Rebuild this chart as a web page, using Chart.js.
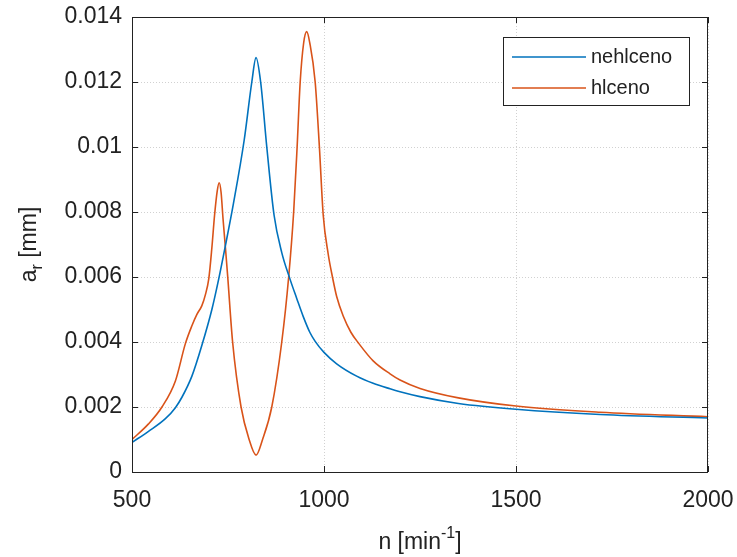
<!DOCTYPE html>
<html>
<head>
<meta charset="utf-8">
<script src="https://cdn.jsdelivr.net/npm/chart.js@4"></script>
<style>
  body { margin: 0; background: #fff; }
  #wrap { width: 737px; height: 557px; position: relative; }
</style>
</head>
<body>
<div id="wrap"><canvas id="respChart"></canvas></div>
<script>
// values
const xTicks = [500, 1000, 1500, 2000];
const yTicks = [0, 0.002, 0.004, 0.006, 0.008, 0.01, 0.012, 0.014];
const seriesNames = ['nehlceno', 'hlceno'];

// nehlceno (blue)
const blueN = [500, 543, 587, 613, 630, 656, 682, 708, 726, 743, 764, 792, 812, 823, 835, 851, 870, 890, 911, 929, 946, 963, 977, 1000, 1033, 1085, 1128, 1172, 1198, 1250, 1350, 1500, 1719, 2000];
const blueA = [0.00091, 0.00125, 0.00164, 0.00198, 0.0023, 0.00295, 0.0039, 0.0050, 0.00595, 0.00695, 0.00825, 0.0102, 0.0120, 0.01275, 0.0120, 0.0100, 0.0079, 0.00675, 0.00595, 0.00534, 0.00478, 0.0043, 0.00402, 0.00368, 0.00333, 0.00295, 0.00273, 0.00256, 0.00247, 0.00232, 0.00211, 0.00193, 0.00177, 0.00166];

// hlceno (orange)
const orangeN = [500, 543, 578, 613, 639, 656, 669, 682, 691, 700, 708, 715, 722, 727, 732, 737, 744, 749, 762, 784, 805, 823, 840, 864, 890, 908, 921, 930, 938, 947, 955, 963, 977, 988, 998, 1011, 1022, 1033, 1050, 1070, 1089, 1128, 1172, 1198, 1250, 1350, 1500, 1719, 2000];
const orangeA = [0.0010, 0.00148, 0.0020, 0.0028, 0.00395, 0.0045, 0.00485, 0.00512, 0.00545, 0.00595, 0.0069, 0.0079, 0.00865, 0.0089, 0.0086, 0.0078, 0.0068, 0.00605, 0.0040, 0.0020, 0.0010, 0.00052, 0.0010, 0.0020, 0.0040, 0.0060, 0.0080, 0.0100, 0.0120, 0.0132, 0.01355, 0.0132, 0.0120, 0.0100, 0.0079, 0.0067, 0.0060, 0.0054, 0.0048, 0.0043, 0.00398, 0.00342, 0.00302, 0.00283, 0.00257, 0.00228, 0.00203, 0.00184, 0.0017];

const FONT = "'Liberation Sans', Arial, sans-serif";
const colors = ['#0072BD', '#D95319'];

const toPts = (xs, ys) => xs.map((x, i) => ({ x: x, y: ys[i] }));

// box, inward ticks, axis titles and legend in MATLAB style
const matlabDecor = {
  id: 'matlabDecor',
  afterDraw(chart) {
    const ctx = chart.ctx;
    const a = chart.chartArea;
    const xs = chart.scales.x, ys = chart.scales.y;
    ctx.save();
    ctx.strokeStyle = '#222';
    ctx.lineWidth = 1;
    ctx.strokeRect(a.left + 0.5, a.top + 0.5, a.right - a.left - 1, a.bottom - a.top);
    ctx.beginPath();
    xTicks.forEach(v => {
      const px = Math.round(xs.getPixelForValue(v)) + 0.5;
      ctx.moveTo(px, a.bottom); ctx.lineTo(px, a.bottom - 6);
      ctx.moveTo(px, a.top); ctx.lineTo(px, a.top + 6);
    });
    yTicks.forEach(v => {
      const py = Math.round(ys.getPixelForValue(v)) + 0.5;
      ctx.moveTo(a.left, py); ctx.lineTo(a.left + 6, py);
      ctx.moveTo(a.right, py); ctx.lineTo(a.right - 6, py);
    });
    ctx.stroke();

    // x title: n [min^-1]
    ctx.fillStyle = '#222';
    ctx.textBaseline = 'alphabetic';
    const big = '23px ' + FONT, small = '16px ' + FONT;
    ctx.font = big;
    const p1 = 'n [min', p3 = ']';
    ctx.font = small; const w2 = ctx.measureText('-1').width;
    ctx.font = big;
    const w1 = ctx.measureText(p1).width, w3 = ctx.measureText(p3).width;
    let x0 = (a.left + a.right) / 2 - (w1 + w2 + w3) / 2;
    const yb = 549;
    ctx.textAlign = 'left';
    ctx.fillText(p1, x0, yb);
    ctx.font = small; ctx.fillText('-1', x0 + w1, yb - 11);
    ctx.font = big; ctx.fillText(p3, x0 + w1 + w2, yb);

    // y title: a_r [mm]
    ctx.save();
    ctx.translate(36, (a.top + a.bottom) / 2);
    ctx.rotate(-Math.PI / 2);
    const q1 = 'a', q3 = ' [mm]';
    ctx.font = big; const v1 = ctx.measureText(q1).width, v3 = ctx.measureText(q3).width;
    ctx.font = small; const v2 = ctx.measureText('r').width;
    let s0 = -(v1 + v2 + v3) / 2;
    ctx.font = big; ctx.fillText(q1, s0, 0);
    ctx.font = small; ctx.fillText('r', s0 + v1, 6);
    ctx.font = big; ctx.fillText(q3, s0 + v1 + v2, 0);
    ctx.restore();

    // legend
    ctx.fillStyle = '#fff';
    ctx.fillRect(503, 37, 186, 68);
    ctx.strokeStyle = '#222';
    ctx.strokeRect(503.5, 37.5, 186, 68);
    ctx.font = '20px ' + FONT;
    ctx.textBaseline = 'middle';
    seriesNames.forEach((name, i) => {
      const yy = 57 + i * 31;
      ctx.strokeStyle = colors[i];
      ctx.lineWidth = 1.6;
      ctx.beginPath(); ctx.moveTo(512, yy); ctx.lineTo(586, yy); ctx.stroke();
      ctx.fillStyle = '#222';
      ctx.fillText(name, 591, yy);
    });
    ctx.restore();
  }
};

const whiteBg = {
  id: 'whiteBg',
  beforeDraw(chart) {
    const ctx = chart.ctx;
    ctx.save();
    ctx.fillStyle = '#fff';
    ctx.fillRect(0, 0, chart.width, chart.height);
    ctx.restore();
  }
};

const respData = {
  datasets: [
    {
      label: seriesNames[0],
      data: toPts(blueN, blueA),
      borderColor: colors[0],
      borderWidth: 1.6,
      pointRadius: 0,
      cubicInterpolationMode: 'monotone',
    },
    {
      label: seriesNames[1],
      data: toPts(orangeN, orangeA),
      borderColor: colors[1],
      borderWidth: 1.6,
      pointRadius: 0,
      cubicInterpolationMode: 'monotone',
    },
  ],
};

const respConfig = {
  type: 'line',
  data: respData,
  options: {
    responsive: true,
    maintainAspectRatio: false,
    animation: false,
    layout: { padding: { top: 17, right: 29, left: 0, bottom: 0 } },
    scales: {
      x: {
        type: 'linear',
        min: 500,
        max: 2000,
        afterFit: (s) => { s.height = 85; s.paddingRight = 0; s.paddingLeft = 0; },
        afterBuildTicks: (s) => { s.ticks = xTicks.map(v => ({ value: v })); },
        ticks: {
          color: '#222',
          padding: 15,
          font: { family: FONT, size: 23 },
          callback: (v) => String(v),
        },
        grid: { color: 'rgba(0,0,0,0.18)', drawTicks: false },
        border: { display: false, dash: [1, 2] },
      },
      y: {
        min: 0,
        max: 0.014,
        afterFit: (s) => { s.width = 132; s.paddingTop = 0; s.paddingBottom = 0; },
        afterBuildTicks: (s) => { s.ticks = yTicks.map(v => ({ value: v })); },
        ticks: {
          color: '#222',
          padding: 10,
          font: { family: FONT, size: 23 },
          callback: (v) => String(+v.toFixed(3)),
        },
        grid: { color: 'rgba(0,0,0,0.18)', drawTicks: false },
        border: { display: false, dash: [1, 2] },
      },
    },
    plugins: {
      legend: { display: false },
      tooltip: { enabled: false },
    },
  },
  plugins: [whiteBg, matlabDecor],
};

new Chart(document.getElementById('respChart').getContext('2d'), respConfig);
</script>
</body>
</html>
